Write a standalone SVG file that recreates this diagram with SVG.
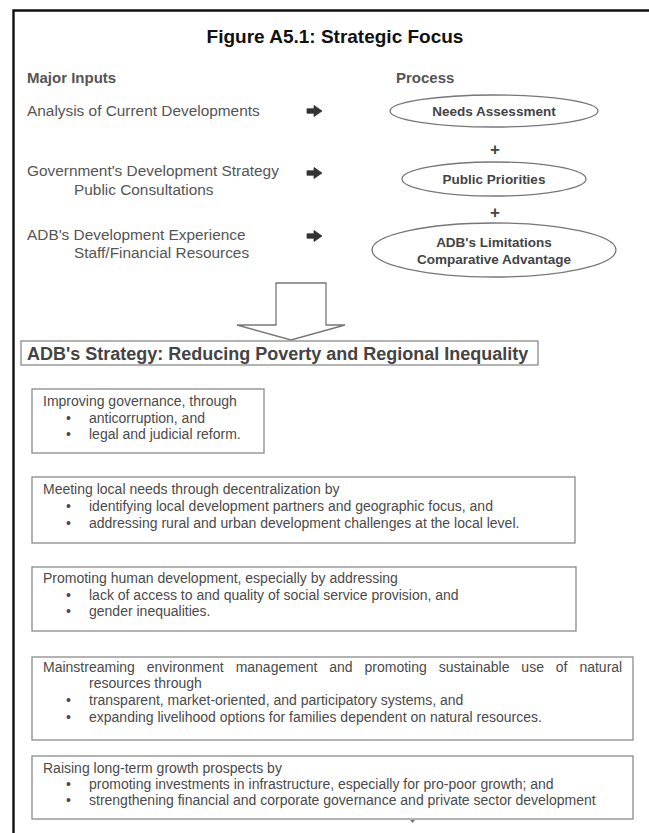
<svg xmlns="http://www.w3.org/2000/svg" width="649" height="833" viewBox="0 0 649 833">
<style>
text{font-family:"Liberation Sans",Arial,Helvetica,sans-serif;fill:#4a4a4a}
.title{font-size:19px;font-weight:bold;fill:#111;text-anchor:middle}
.head{font-size:15px;font-weight:bold;fill:#555}
.inp{font-size:15.4px;fill:#555}
.ell{fill:#fff;stroke:#777;stroke-width:1.3}
.et{font-size:13.5px;font-weight:bold;fill:#444;text-anchor:middle}
.plus{font-size:17px;font-weight:bold;fill:#444;text-anchor:middle}
.box{fill:#fff;stroke:#8a8a8a;stroke-width:1.3}
.bt{font-size:14px;fill:#4a4a4a}
.strat{font-size:18px;font-weight:bold;fill:#444}
</style>
<defs>
<path id="harrow" d="M0 -2.2 H7 V-5.5 L15 0 L7 5.5 V2.2 H0 Z" fill="#333" stroke="#333" stroke-width="0.8" stroke-linejoin="round"/>
</defs>
<rect x="0" y="0" width="649" height="833" fill="#fff"/>
<g id="frame">
<path d="M13.5 833 V10.5 H649" fill="none" stroke="#111" stroke-width="2.4"/>
</g>
<g id="title"><text class="title" x="335" y="43">Figure A5.1: Strategic Focus</text></g>
<g id="headers">
<text class="head" x="27" y="83">Major Inputs</text>
<text class="head" x="396" y="83">Process</text>
</g>
<g id="inputs">
<text class="inp" x="27" y="116">Analysis of Current Developments</text>
<text class="inp" x="27" y="176">Government's Development Strategy</text>
<text class="inp" x="74" y="195">Public Consultations</text>
<text class="inp" x="27" y="240">ADB's Development Experience</text>
<text class="inp" x="74" y="258">Staff/Financial Resources</text>
</g>
<g id="connectors">
<use href="#harrow" x="307" y="111"/>
<use href="#harrow" x="307" y="173"/>
<use href="#harrow" x="307" y="236"/>
<text class="plus" x="495" y="155">+</text>
<text class="plus" x="495" y="218">+</text>
<path d="M276 283 H326 V325 H345 L291 340 L237 325 H276 Z" fill="#fff" stroke="#777" stroke-width="1.3"/>
</g>
<g id="needs"><ellipse class="ell" cx="494" cy="111" rx="104" ry="16"/><text class="et" x="494" y="116">Needs Assessment</text></g>
<g id="priorities"><ellipse class="ell" cx="494" cy="179" rx="92" ry="17"/><text class="et" x="494" y="184">Public Priorities</text></g>
<g id="limitations"><ellipse class="ell" cx="494" cy="250" rx="122" ry="27"/><text class="et" x="494" y="247">ADB's Limitations</text><text class="et" x="494" y="264">Comparative Advantage</text></g>
<g id="strategy"><rect class="box" x="21" y="341" width="517" height="24" stroke="#666" stroke-width="1.6"/><text class="strat" x="27" y="360">ADB's Strategy: Reducing Poverty and Regional Inequality</text></g>
<g id="governance"><rect class="box" x="32" y="389" width="232" height="64"/>
<text class="bt" x="43" y="406">Improving governance, through</text>
<text class="bt" x="66" y="423">•</text><text class="bt" x="89" y="423">anticorruption, and</text>
<text class="bt" x="66" y="439">•</text><text class="bt" x="89" y="439">legal and judicial reform.</text></g>
<g id="local"><rect class="box" x="32" y="477" width="543" height="66"/>
<text class="bt" x="43" y="494">Meeting local needs through decentralization by</text>
<text class="bt" x="66" y="511">•</text><text class="bt" x="89" y="511">identifying local development partners and geographic focus, and</text>
<text class="bt" x="66" y="528">•</text><text class="bt" x="89" y="528">addressing rural and urban development challenges at the local level.</text></g>
<g id="human"><rect class="box" x="32" y="567" width="544" height="64"/>
<text class="bt" x="43" y="583">Promoting human development, especially by addressing</text>
<text class="bt" x="66" y="600">•</text><text class="bt" x="89" y="600">lack of access to and quality of social service provision, and</text>
<text class="bt" x="66" y="616">•</text><text class="bt" x="89" y="616">gender inequalities.</text></g>
<g id="environment"><rect class="box" x="32" y="657" width="601" height="83"/>
<text class="bt" x="43" y="672" word-spacing="8">Mainstreaming environment management and promoting sustainable use of natural</text>
<text class="bt" x="89" y="688">resources through</text>
<text class="bt" x="66" y="705">•</text><text class="bt" x="89" y="705">transparent, market-oriented, and participatory systems, and</text>
<text class="bt" x="66" y="722">•</text><text class="bt" x="89" y="722">expanding livelihood options for families dependent on natural resources.</text></g>
<g id="growth"><rect class="box" x="32" y="756" width="601" height="63"/>
<text class="bt" x="43" y="773">Raising long-term growth prospects by</text>
<text class="bt" x="66" y="789">•</text><text class="bt" x="89" y="789">promoting investments in infrastructure, especially for pro-poor growth; and</text>
<text class="bt" x="66" y="805">•</text><text class="bt" x="89" y="805">strengthening financial and corporate governance and private sector development</text></g>
<path d="M410 820 h5 l-2.5 3 z" fill="#777"/>
</svg>
